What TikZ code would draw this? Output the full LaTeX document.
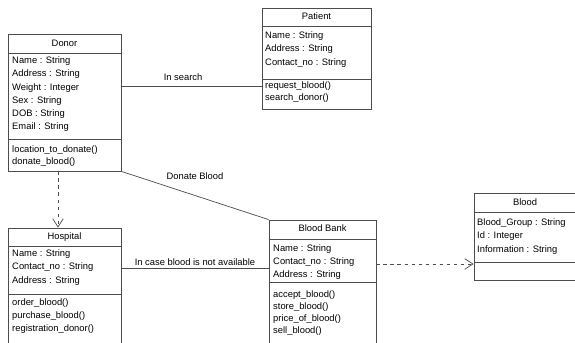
\documentclass[tikz,border=0pt]{standalone}
\usepackage{fontspec}
\setmainfont{Liberation Sans}
\usepackage{xcolor}
\usetikzlibrary{calc, fit, arrows.meta}
\definecolor{umlgray}{gray}{0.3}
\newcommand{\classrows}[4]{\foreach \m [count=\k] in {#4} {\node[attr] at (#1,{#2+#3*(\k-1)}) {\m};}}
\tikzset{
  cls/.style={draw=umlgray, line width=.7pt, inner sep=0pt},
  attr/.style={anchor=west, inner sep=0pt, font=\fontsize{8}{9}\selectfont},
  ttl/.style={inner sep=0pt, font=\fontsize{8}{9}\selectfont},
  assoc/.style={draw=umlgray, line width=.6pt},
  dep/.style={draw=umlgray, line width=.6pt, dashed, -{Straight Barb[length=7pt,width=9pt]}},
}

\begin{document}
\begin{tikzpicture}[x=0.03cm, y=-0.03cm]
			\useasboundingbox (0,0) rectangle (575,343);
			\clip (0,0) rectangle (575,343);
			\fill[white] (0,0) rectangle (575,343);
			% class boxes
			\node[cls, fit={(8,34) (121,171)}] (donor) {};
			\node[cls, fit={(262,8) (371,109)}] (patient) {};
			\node[cls, fit={(8,228) (121,362)}] (hospital) {};
			\node[cls, fit={(269,220) (376,362)}] (bank) {};
			\node[cls, fit={(474,193) (576,280)}] (blood) {};
			\draw[assoc] ($(donor.north west)+(0,20)$) -- ($(donor.north east)+(0,20)$);
			\draw[assoc] ($(donor.north west)+(0,106)$) -- ($(donor.north east)+(0,106)$);
			\draw[assoc] ($(patient.north west)+(0,19)$) -- ($(patient.north east)+(0,19)$);
			\draw[assoc] ($(patient.north west)+(0,72)$) -- ($(patient.north east)+(0,72)$);
			\draw[assoc] ($(hospital.north west)+(0,19)$) -- ($(hospital.north east)+(0,19)$);
			\draw[assoc] ($(hospital.north west)+(0,67)$) -- ($(hospital.north east)+(0,67)$);
			\draw[assoc] ($(bank.north west)+(0,20)$) -- ($(bank.north east)+(0,20)$);
			\draw[assoc] ($(bank.north west)+(0,63)$) -- ($(bank.north east)+(0,63)$);
			\draw[assoc] ($(blood.north west)+(0,20)$) -- ($(blood.north east)+(0,20)$);
			\draw[assoc] ($(blood.north west)+(0,70)$) -- ($(blood.north east)+(0,70)$);
			% titles and members
			\node[ttl] (donortitle) at ($(donor.north)+(0,10)$) {Donor};
			\classrows{12}{61}{13.3}{Name : String, Address : String, Weight : Integer, Sex : String, DOB : String, Email : String}
			\classrows{12}{150}{12.5}{location\_to\_donate(), donate\_blood()}
			\node[ttl] (patienttitle) at ($(patient.north)+(0,9)$) {Patient};
			\classrows{265}{36}{13.5}{Name : String, Address : String, Contact\_no : String}
			\classrows{265}{86}{12}{request\_blood(), search\_donor()}
			\node[ttl] (hospitaltitle) at ($(hospital.north)+(0,9)$) {Hospital};
			\classrows{12}{254}{13.5}{Name : String, Contact\_no : String, Address : String}
			\classrows{12}{303}{13}{order\_blood(), purchase\_blood(), registration\_donor()}
			\node[ttl] (banktitle) at ($(bank.north)+(0,9)$) {Blood Bank};
			\classrows{273}{249}{13}{Name : String, Contact\_no : String, Address : String}
			\classrows{273}{295}{12}{accept\_blood(), store\_blood(), price\_of\_blood(), sell\_blood()}
			\node[ttl] (bloodtitle) at ($(blood.north)+(0,10)$) {Blood};
			\classrows{477}{223}{13.5}{Blood\_Group : String, Id : Integer, Information : String}
			% relations
			\coordinate (s) at (0,86);
			\coordinate (c) at (0,268);
			\coordinate (b) at (0,264);
			\coordinate (d) at (58,0);
			\draw[assoc] (donor.east |- s) -- node[ttl, pos=.44, above=4pt] {In search} (patient.west |- s);
			\draw[assoc] (donor.south east) -- node[ttl, midway, above=13pt] {Donate Blood} (bank.north west);
			\draw[assoc] (hospital.east |- c) -- node[ttl, midway, above=2pt] {In case blood is not available} (bank.west |- c);
			\draw[dep] (donor.south -| d) -- (hospital.north -| d);
			\draw[dep] (bank.east |- b) -- (blood.west |- b);
		\end{tikzpicture}
\end{document}
